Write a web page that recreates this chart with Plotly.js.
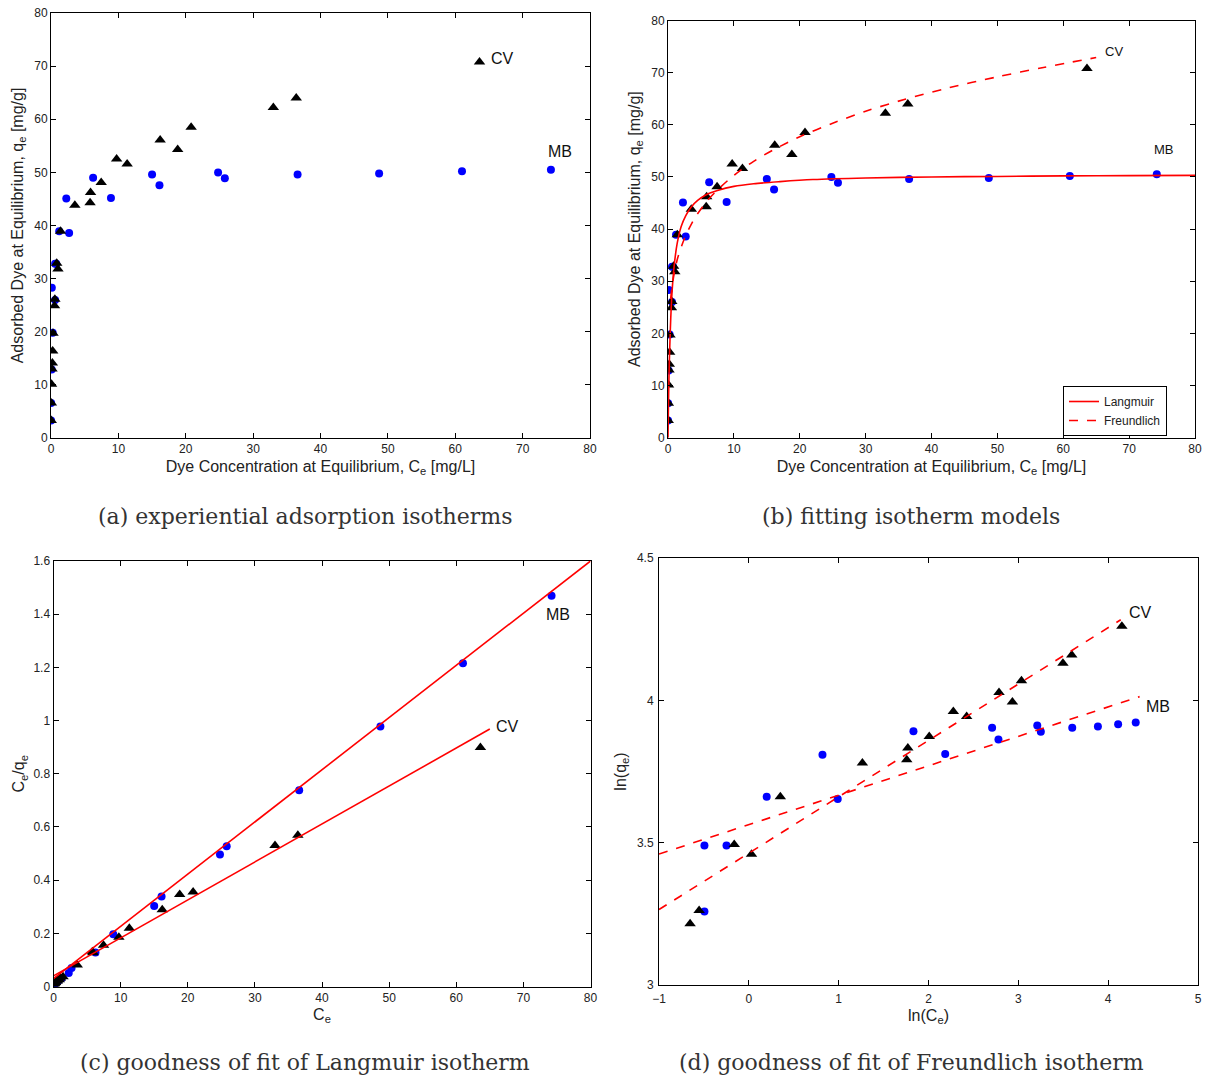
<!DOCTYPE html>
<html>
<head>
<meta charset="utf-8">
<script src="https://cdn.plot.ly/plotly-3.0.1.min.js"></script>
<style>
  html, body { margin: 0; padding: 0; background: #fff; }
  #chart { width: 1209px; height: 1077px; }
</style>
</head>
<body>
<div id="chart"></div>
<script>
// Methylene blue (MB)
const mbCe = [0.01, 0.02, 0.1, 0.25, 0.12, 0.61, 0.61, 0.78, 1.22, 2.27, 2.69, 6.25, 8.9, 15.0, 16.1, 24.8, 25.8, 36.6, 48.7, 61.0, 74.2];
const mbQe = [3.3, 6.6, 12.9, 19.8, 28.3, 32.8, 26.0, 32.8, 38.9, 45.1, 38.6, 49.0, 45.2, 49.6, 47.6, 50.0, 48.9, 49.6, 49.8, 50.2, 50.5];
// Crystal violet (CV)
const cvCe = [0.04, 0.06, 0.08, 0.15, 0.2, 0.25, 0.3, 0.52, 0.575, 0.85, 1.03, 1.42, 3.54, 5.8, 5.87, 7.45, 9.74, 11.3, 16.2, 18.8, 20.8, 33.0, 36.4, 63.6];
const cvQe = [3.3, 6.6, 10.1, 13.0, 14.1, 16.4, 19.7, 24.9, 26.1, 32.9, 31.8, 38.9, 43.8, 44.3, 46.2, 48.1, 52.5, 51.6, 56.1, 54.3, 58.5, 62.2, 64.0, 70.8];

// ---- Fitted model curves in panel (b) ----
const langCurveCe = [0, 0.05, 0.1, 0.2, 0.35, 0.5, 0.7, 1, 1.4, 2, 2.7, 3.5, 4.5, 5.8, 7.5, 10, 13, 17, 22, 30, 40, 50, 60, 70, 80];
const langCurveQe = [0, 4.6, 8.5, 14.5, 20.6, 25.3, 29.5, 33.7, 37.3, 40.5, 42.6, 44.2, 45.5, 46.6, 47.4, 48.2, 48.7, 49.1, 49.5, 49.8, 50.0, 50.1, 50.2, 50.25, 50.3];
const freuCurveCe = [0.4, 0.6, 1, 1.5, 2.5, 4, 6, 8, 10, 13, 16, 20, 25, 30, 36, 42, 50, 57, 65];
const freuCurveQe = [26.6, 28.8, 31.9, 34.6, 38.2, 42.0, 45.5, 48.1, 50.3, 53.0, 55.2, 57.7, 60.3, 62.6, 64.9, 66.9, 69.2, 71.0, 72.9];

// ---- Linearised fit lines, panels (c) and (d) (end points) ----
const langLineMBx = [0, 80],     langLineMBy = [0.03, 1.60];
const langLineCVx = [0, 65],     langLineCVy = [0.04, 0.968];
const freuLineCVx = [-1, 4.14],  freuLineCVy = [3.265, 4.283];
const freuLineMBx = [-1, 4.35],  freuLineMBy = [3.46, 4.013];

// ---- Derived quantities (same data, transformed as in the figure) ----
const ratio = (c, q) => c.map((v, i) => v / q[i]);
const lnArr = a => a.map(v => Math.log(v));

const BLUE = '#0000ff', BLACK = '#000000', RED = '#ff0000';
const mbMarker = {symbol: 'circle', size: 8, color: BLUE};
const cvMarker = {symbol: 'triangle-up', size: 10, color: BLACK};

function pts(x, y, xa, ya, marker, name) {
  return {x: x, y: y, xaxis: xa, yaxis: ya, type: 'scatter', mode: 'markers',
          marker: marker, name: name, showlegend: false, cliponaxis: true, hoverinfo: 'x+y'};
}
function line(x, y, xa, ya, dash, name, legend, shape) {
  return {x: x, y: y, xaxis: xa, yaxis: ya, type: 'scatter', mode: 'lines',
          line: {color: RED, width: 1.6, dash: dash, shape: shape || 'linear', smoothing: 0.8},
          name: name, showlegend: legend, cliponaxis: true};
}

const traces = [
  // (a)
  pts(mbCe, mbQe, 'x', 'y', mbMarker, 'MB'),
  pts(cvCe, cvQe, 'x', 'y', cvMarker, 'CV'),
  // (b)
  pts(mbCe, mbQe, 'x2', 'y2', mbMarker, 'MB'),
  pts(cvCe, cvQe, 'x2', 'y2', cvMarker, 'CV'),
  line(langCurveCe, langCurveQe, 'x2', 'y2', 'solid', 'Langmuir', true, 'spline'),
  line(freuCurveCe, freuCurveQe, 'x2', 'y2', 'dash', 'Freundlich', true, 'spline'),
  // (c)
  pts(mbCe, ratio(mbCe, mbQe), 'x3', 'y3', mbMarker, 'MB'),
  pts(cvCe, ratio(cvCe, cvQe), 'x3', 'y3', cvMarker, 'CV'),
  line(langLineMBx, langLineMBy, 'x3', 'y3', 'solid', 'MB Langmuir', false),
  line(langLineCVx, langLineCVy, 'x3', 'y3', 'solid', 'CV Langmuir', false),
  // (d)
  pts(lnArr(mbCe), lnArr(mbQe), 'x4', 'y4', mbMarker, 'MB'),
  pts(lnArr(cvCe), lnArr(cvQe), 'x4', 'y4', cvMarker, 'CV'),
  line(freuLineCVx, freuLineCVy, 'x4', 'y4', 'dash', 'CV Freundlich', false),
  line(freuLineMBx, freuLineMBy, 'x4', 'y4', 'dash', 'MB Freundlich', false)
];

const W = 1209, H = 1077;
const px = v => v / W;
const py = v => 1 - v / H;

const TICKFONT = {family: 'Liberation Sans, Arial, sans-serif', size: 12, color: '#222'};
const TITLEFONT = {family: 'Liberation Sans, Arial, sans-serif', size: 16, color: '#222'};

function ax(domain, range, dtick, anchor, title, standoff, labelOff) {
  return {
    domain: domain, range: range, dtick: dtick, tick0: range[0], anchor: anchor,
    showline: true, linecolor: '#000', linewidth: 1, mirror: 'ticks',
    ticks: 'inside', ticklen: 5, tickwidth: 1, tickcolor: '#000',
    ticklabelstandoff: labelOff || 0,
    showgrid: false, zeroline: false, tickfont: TICKFONT, automargin: false,
    title: {text: title, font: TITLEFONT, standoff: standoff}
  };
}

const qeTitle = 'Adsorbed Dye at Equilibrium, q<sub>e</sub> [mg/g]';
const ceTitle = 'Dye Concentration at Equilibrium, C<sub>e</sub> [mg/L]';

const labelFont = {family: 'Liberation Sans, Arial, sans-serif', size: 16, color: '#111'};
const labelFontB = {family: 'Liberation Sans, Arial, sans-serif', size: 13, color: '#111'};
const capFont = {family: 'DejaVu Serif, serif', size: 22, color: '#333'};

function lab(text, x, y, xr, yr, font) {
  return {text: text, x: x, y: y, xref: xr, yref: yr, xanchor: 'left', yanchor: 'middle',
          showarrow: false, font: font};
}
function cap(text, cx, cy) {
  return {text: text, x: px(cx), y: py(cy), xref: 'paper', yref: 'paper',
          xanchor: 'center', yanchor: 'middle', showarrow: false, font: capFont};
}

const layout = {
  width: W, height: H,
  margin: {l: 0, r: 0, t: 0, b: 0},
  paper_bgcolor: '#fff', plot_bgcolor: '#fff',
  showlegend: true,
  xaxis:  ax([px(51), px(590)],   [0, 80],   10,  'y',  ceTitle, 5),
  yaxis:  ax([py(438), py(13)],   [0, 80],   10,  'x',  qeTitle, 6),
  xaxis2: ax([px(668), px(1195)], [0, 80],   10,  'y2', ceTitle, 5),
  yaxis2: ax([py(437.7), py(20.5)], [0, 80], 10,  'x2', qeTitle, 6),
  xaxis3: ax([px(53.5), px(590.5)], [0, 80], 10,  'y3', 'C<sub>e</sub>', 4),
  yaxis3: ax([py(986.5), py(561)], [0, 1.6], 0.2, 'x3', 'C<sub>e</sub>/q<sub>e</sub>', 4),
  xaxis4: ax([px(659), px(1198)], [-1, 5],   1,   'y4', 'ln(C<sub>e</sub>)', 4, 3),
  yaxis4: ax([py(985), py(558)],  [3, 4.5],  0.5, 'x4', 'ln(q<sub>e</sub>)', 6, 2),
  legend: {
    x: px(1063), y: py(386), xanchor: 'left', yanchor: 'top',
    bgcolor: '#fff', bordercolor: '#000', borderwidth: 1,
    font: {family: 'Liberation Sans, Arial, sans-serif', size: 12, color: '#222'},
    tracegroupgap: 0, itemwidth: 30
  },
  annotations: [
    lab('CV', 65, 71.5, 'x', 'y', labelFont),
    lab('MB', 73.4, 54, 'x', 'y', labelFont),
    lab('CV', 66, 74, 'x2', 'y2', labelFontB),
    lab('MB', 73.4, 55.2, 'x2', 'y2', labelFontB),
    lab('MB', 73.1, 1.397, 'x3', 'y3', labelFont),
    lab('CV', 65.6, 0.976, 'x3', 'y3', labelFont),
    lab('CV', 4.21, 4.307, 'x4', 'y4', labelFont),
    lab('MB', 4.40, 3.98, 'x4', 'y4', labelFont),
    cap('(a) experiential adsorption isotherms', 305, 516),
    cap('(b) fitting isotherm models', 911, 516),
    cap('(c) goodness of fit of Langmuir isotherm', 305, 1062),
    cap('(d) goodness of fit of Freundlich isotherm', 911, 1062)
  ]
};

Plotly.newPlot('chart', traces, layout, {staticPlot: true, displayModeBar: false});
</script>
</body>
</html>
